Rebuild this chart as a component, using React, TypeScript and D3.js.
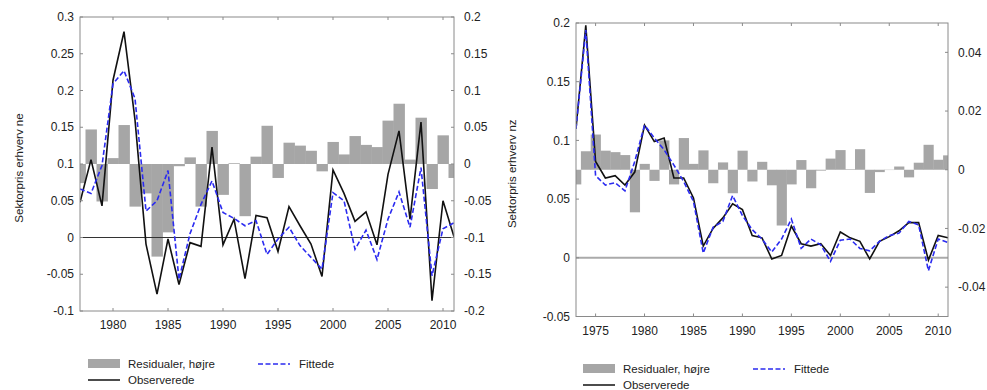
import React from "react";
import * as d3 from "d3";

// venstre panel: 1977-2011
const neStart = 1977;
const neObserved = [0.048, 0.106, 0.043, 0.214, 0.28, 0.16, -0.009, -0.077, -0.002, -0.064, -0.007, -0.012, 0.123, -0.01, 0.025, -0.056, 0.03, 0.027, -0.019, 0.042, 0.016, -0.009, -0.053, 0.092, 0.06, 0.022, 0.035, -0.01, 0.086, 0.145, 0.025, 0.157, -0.086, 0.05, 0.001];
const neFitted = [0.066, 0.06, 0.098, 0.209, 0.227, 0.189, 0.036, 0.05, 0.091, -0.057, 0.005, 0.045, 0.077, 0.034, 0.026, 0.016, 0.023, -0.023, -0.002, 0.014, -0.011, -0.027, -0.043, 0.061, 0.05, -0.016, 0.01, -0.03, 0.025, 0.062, 0.014, 0.095, -0.052, 0.012, 0.02];
const neResid = [-0.026, 0.047, -0.051, 0.008, 0.053, -0.058, -0.04, -0.126, -0.093, -0.003, 0.009, -0.058, 0.045, -0.042, 0.001, -0.071, 0.01, 0.052, -0.019, 0.029, 0.025, 0.018, -0.01, 0.03, 0.013, 0.038, 0.026, 0.023, 0.059, 0.082, 0.006, 0.063, -0.034, 0.039, -0.019];
const neLeftTicks = [-0.1, -0.05, 0, 0.05, 0.1, 0.15, 0.2, 0.25, 0.3];
const neRightTicks = [-0.2, -0.15, -0.1, -0.05, 0, 0.05, 0.1, 0.15, 0.2];
const neYearTicks = [1980, 1985, 1990, 1995, 2000, 2005, 2010];

// højre panel: 1973-2011
const nzStart = 1973;
const nzObserved = [0.11, 0.198, 0.082, 0.068, 0.07, 0.062, 0.073, 0.113, 0.099, 0.102, 0.068, 0.068, 0.051, 0.01, 0.025, 0.034, 0.046, 0.041, 0.019, 0.017, -0.001, 0.002, 0.027, 0.012, 0.01, 0.012, 0.002, 0.022, 0.017, 0.014, -0.001, 0.014, 0.018, 0.023, 0.03, 0.03, -0.002, 0.019, 0.017];
const nzFitted = [0.11, 0.194, 0.07, 0.062, 0.064, 0.057, 0.082, 0.113, 0.102, 0.092, 0.079, 0.065, 0.048, 0.004, 0.026, 0.031, 0.053, 0.036, 0.024, 0.016, 0.005, 0.016, 0.033, 0.008, 0.016, 0.011, -0.003, 0.015, 0.016, 0.008, 0.006, 0.014, 0.019, 0.021, 0.031, 0.028, -0.011, 0.016, 0.013];
const nzResid = [-0.005, 0.0063, 0.012, 0.0065, 0.006, 0.005, -0.0145, 0.002, -0.0038, 0.01, -0.005, 0.0108, 0.002, 0.0066, -0.0046, 0.0025, -0.008, 0.0065, -0.004, 0.0027, -0.0053, -0.019, -0.005, 0.0033, -0.0063, -0.0003, 0.0038, 0.0067, 0.0002, 0.007, -0.0079, -0.0008, -0.0001, 0.0011, -0.0026, 0.0024, 0.0085, 0.0034, 0.0049];
const nzLeftTicks = [-0.05, 0, 0.05, 0.1, 0.15, 0.2];
const nzRightTicks = [-0.04, -0.02, 0, 0.02, 0.04];
const nzYearTicks = [1975, 1980, 1985, 1990, 1995, 2000, 2005, 2010];

const FONT = "Liberation Sans, Arial, sans-serif";
const BLUE = "#2b2bf0";

function Panel(p) {
  const { id, x0, x1, y0, y1, xDom, yLDom, yRDom, start, obs, fit, res, lTicks, rTicks, xTicks, label, labelX, zeroStyle, legend } = p;
  const x = d3.scaleLinear().domain(xDom).range([x0, x1]);
  const yL = d3.scaleLinear().domain(yLDom).range([y1, y0]);
  const yR = d3.scaleLinear().domain(yRDom).range([y1, y0]);
  const rows = obs.map((v, i) => ({ year: start + i, obs: v, fit: fit[i], res: res[i] }));
  const bw = x(start + 1) - x(start);
  const line = (key) => d3.line().x((d) => x(d.year)).y((d) => yL(d[key]))(rows);
  const fmt = (v) => String(+v.toFixed(3));
  const tk = 3;
  return (
    <g>
      <defs>
        <clipPath id={id}>
          <rect x={x0} y={y0} width={x1 - x0} height={y1 - y0} />
        </clipPath>
      </defs>
      <g clipPath={`url(#${id})`}>
        {rows.map((d) => (
          <rect key={d.year} x={x(d.year) - bw / 2} width={bw + 0.4}
            y={Math.min(yR(d.res), yR(0))} height={Math.abs(yR(d.res) - yR(0))} fill="#a6a6a6" />
        ))}
        <line x1={x0} x2={x1} y1={yL(0)} y2={yL(0)} stroke={zeroStyle.color} strokeWidth={zeroStyle.width} />
        <path d={line("obs")} fill="none" stroke="#111" strokeWidth={1.6} />
        <path d={line("fit")} fill="none" stroke={BLUE} strokeWidth={1.6} strokeDasharray="5,2.5" />
      </g>
      <rect x={x0} y={y0} width={x1 - x0} height={y1 - y0} fill="none" stroke="#8a8a8a" strokeWidth={1} />
      {lTicks.map((t) => (
        <g key={"l" + t}>
          <line x1={x0} x2={x0 + tk} y1={yL(t)} y2={yL(t)} stroke="#8a8a8a" />
          <text x={x0 - 6} y={yL(t)} dy="0.35em" textAnchor="end" fontSize={12} fill="#222" fontFamily={FONT}>{fmt(t)}</text>
        </g>
      ))}
      {rTicks.map((t) => (
        <g key={"r" + t}>
          <line x1={x1 - tk} x2={x1} y1={yR(t)} y2={yR(t)} stroke="#8a8a8a" />
          <text x={x1 + 10} y={yR(t)} dy="0.35em" textAnchor="start" fontSize={12} fill="#222" fontFamily={FONT}>{fmt(t)}</text>
        </g>
      ))}
      {xTicks.map((t) => (
        <g key={"x" + t}>
          <line x1={x(t)} x2={x(t)} y1={y1} y2={y1 - tk} stroke="#8a8a8a" />
          <line x1={x(t)} x2={x(t)} y1={y0} y2={y0 + tk} stroke="#8a8a8a" />
          <text x={x(t)} y={y1 + 18} textAnchor="middle" fontSize={12} fill="#222" fontFamily={FONT}>{t}</text>
        </g>
      ))}
      <text transform={`translate(${labelX},${(y0 + y1) / 2 + 4}) rotate(-90)`} textAnchor="middle" fontSize={11.5} fill="#222" fontFamily={FONT}>{label}</text>
      <g fontFamily={FONT} fontSize={11.5} fill="#222">
        <rect x={legend.x} y={legend.y - 5} width={32} height={9} fill="#a6a6a6" />
        <text x={legend.x + 40} y={legend.y + 4}>Residualer, højre</text>
        <line x1={legend.x} x2={legend.x + 32} y1={legend.y + 16} y2={legend.y + 16} stroke="#111" strokeWidth={1.5} />
        <text x={legend.x + 40} y={legend.y + 20}>Observerede</text>
        <line x1={legend.fx} x2={legend.fx + 32} y1={legend.y} y2={legend.y} stroke={BLUE} strokeWidth={1.5} strokeDasharray="5,2.5" />
        <text x={legend.fx + 41} y={legend.y + 4}>Fittede</text>
      </g>
    </g>
  );
}

export default function App() {
  return (
    <svg width={987} height={390} style={{ position: "absolute", left: 0, top: 0, background: "#fff" }}>
      <Panel id="clipNe" x0={80} x1={454} y0={17} y1={311} xDom={[1977, 2011]} yLDom={[-0.1, 0.3]} yRDom={[-0.2, 0.2]}
        start={neStart} obs={neObserved} fit={neFitted} res={neResid}
        lTicks={neLeftTicks} rTicks={neRightTicks} xTicks={neYearTicks}
        label="Sektorpris erhverv ne" labelX={23} zeroStyle={{ color: "#333", width: 1 }}
        legend={{ x: 88, y: 364, fx: 258 }} />
      <Panel id="clipNz" x0={576} x1={948} y0={23} y1={316.5} xDom={[1973, 2011]} yLDom={[-0.05, 0.2]} yRDom={[-0.05, 0.05]}
        start={nzStart} obs={nzObserved} fit={nzFitted} res={nzResid}
        lTicks={nzLeftTicks} rTicks={nzRightTicks} xTicks={nzYearTicks}
        label="Sektorpris erhverv nz" labelX={516} zeroStyle={{ color: "#aaa", width: 2 }}
        legend={{ x: 583, y: 369, fx: 753 }} />
    </svg>
  );
}
